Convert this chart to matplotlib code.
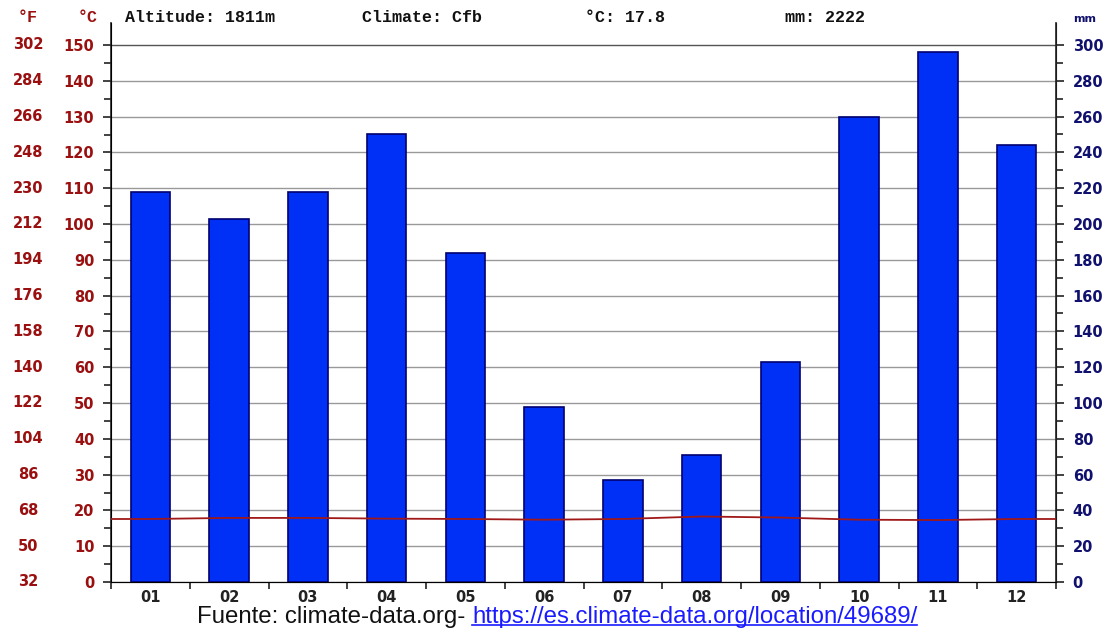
import matplotlib
matplotlib.use("Agg")
import matplotlib.pyplot as plt
import numpy as np
from matplotlib.transforms import blended_transform_factory

months = ["01", "02", "03", "04", "05", "06", "07", "08", "09", "10", "11", "12"]
precip_mm = [218, 203, 218, 250, 184, 98, 57, 71, 123, 260, 296, 244]
temp_c = [17.6, 17.9, 17.9, 17.7, 17.6, 17.4, 17.6, 18.3, 18.0, 17.4, 17.3, 17.6]
c_ticks = [0, 10, 20, 30, 40, 50, 60, 70, 80, 90, 100, 110, 120, 130, 140, 150]
f_labels = ["32", "50", "68", "86", "104", "122", "140", "158", "176", "194",
            "212", "230", "248", "266", "284", "302"]
mm_ticks = [0, 20, 40, 60, 80, 100, 120, 140, 160, 180, 200, 220, 240, 260, 280, 300]

W, H = 1113, 629
fig = plt.figure(figsize=(W / 100, H / 100), dpi=100)
L, R, B, T = 111, 1056, 582, 23
ax = fig.add_axes([L / W, 1 - B / H, (R - L) / W, (B - T) / H])
ctop = (B - T) / 3.58
ax.set_ylim(0, ctop)
ax.set_xlim(-0.5, 11.5)
ax2 = ax.twinx()
ax2.set_ylim(0, ctop * 2)

RED = "#9a1010"
NAVY = "#10106e"

# grid
for v in c_ticks:
    ax.axhline(v, color="#555555" if v == 150 else "#999999", lw=1.0, zorder=1)

x = np.arange(12)
ax2.bar(x, precip_mm, width=0.5, color="#0030f5", edgecolor="#000070", linewidth=1.2, zorder=3)
ax2.set_zorder(ax.get_zorder() + 1)
ax2.patch.set_visible(False)

# temperature line extended to edges
tx = np.concatenate([[-0.5], x, [11.5]])
ty = np.concatenate([[temp_c[0]], temp_c, [temp_c[-1]]])
ax2.plot(tx, np.array(ty) * 2, color="#a01818", lw=1.3, zorder=4)

# axes styling
ax.spines["top"].set_visible(False)
ax2.spines["top"].set_visible(False)
ax.spines["bottom"].set_color("#222222")
ax.spines["left"].set_color("#222222")
ax2.spines["right"].set_color("#222222")
ax.spines["left"].set_linewidth(1.2)
ax2.spines["right"].set_linewidth(1.2)

ax.set_yticks(c_ticks)
ax.set_yticks(np.arange(5, 151, 10), minor=True)
ax.set_yticklabels([str(v) for v in c_ticks], color=RED, fontsize=10.5, fontweight="bold",
                   family="DejaVu Sans")
ax.tick_params(axis="y", which="major", length=6, width=1.2, color="#222222", pad=6)
ax.tick_params(axis="y", which="minor", length=5, width=1.2, color="#222222")

ax2.set_yticks(mm_ticks)
ax2.set_yticks(np.arange(10, 301, 20), minor=True)
ax2.set_yticklabels([str(v) for v in mm_ticks], color=NAVY, fontsize=10.5, fontweight="bold")
ax2.tick_params(axis="y", which="major", length=6, width=1.2, color="#222222", pad=6)
ax2.tick_params(axis="y", which="minor", length=5, width=1.2, color="#222222")

ax.set_xticks(x)
ax.set_xticklabels(months, fontsize=10.5, fontweight="bold", color="#222222")
ax.set_xticks(np.arange(-0.5, 12, 1), minor=True)
ax.tick_params(axis="x", which="major", length=0, pad=6)
ax.tick_params(axis="x", which="minor", length=5, width=1.2, color="#222222")
ax2.tick_params(axis="x", which="both", length=0)

# Fahrenheit labels
trans = blended_transform_factory(fig.transFigure, ax.transData)
for v, lab in zip(c_ticks, f_labels):
    fig.text(28 / W, v, lab, transform=trans, ha="center", va="center", color=RED,
             fontsize=10.5, fontweight="bold")

# header
hy = 1 - 18 / H
hf = dict(fontsize=12, fontweight="bold", family="Liberation Mono", va="center", color="#111111")
fig.text(28 / W, hy, "°F", ha="center", **{**hf, "color": RED})
fig.text(88 / W, hy, "°C", ha="center", **{**hf, "color": RED})
fig.text(125 / W, hy, "Altitude: 1811m", ha="left", **hf)
fig.text(362 / W, hy, "Climate: Cfb", ha="left", **hf)
fig.text(585 / W, hy, "°C: 17.8", ha="left", **hf)
fig.text(785 / W, hy, "mm: 2222", ha="left", **hf)
fig.text(1085 / W, 1 - 19 / H, "mm", ha="center", va="center", fontsize=8, fontweight="bold",
         color=NAVY)

# footer
fy = 1 - 617 / H
t1 = fig.text(197 / W, fy, "Fuente: climate-data.org- ", ha="left", va="center",
              fontsize=17.3, family="Liberation Sans", color="#111111")
fig.canvas.draw()
bb = t1.get_window_extent()
t2 = fig.text(bb.x1 / W, fy, "https://es.climate-data.org/location/49689/", ha="left",
              va="center", fontsize=17.3, family="Liberation Sans", color="#1a1aff")
fig.canvas.draw()
bb2 = t2.get_window_extent()
fig.add_artist(plt.Line2D([bb2.x0 / W, bb2.x1 / W], [(bb2.y0 + 3) / H] * 2, color="#1a1aff",
                          lw=1.2, transform=fig.transFigure))

fig.savefig("out.png", dpi=100)
